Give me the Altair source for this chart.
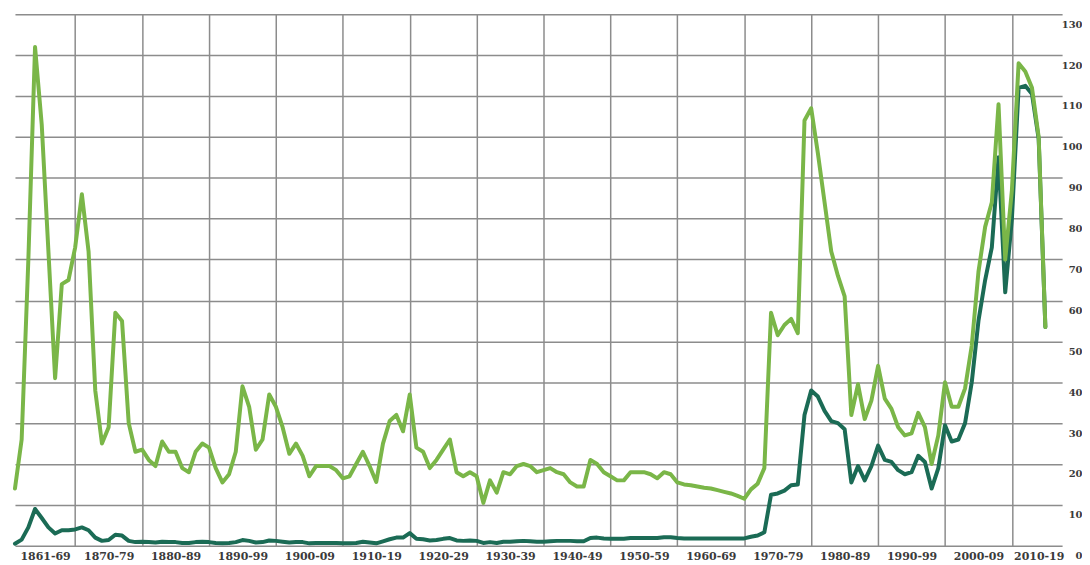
import altair as alt
import pandas as pd

years = list(range(1861, 2016))

# light green series (higher line)
real_price = [
    14, 26, 70, 122, 103, 72, 41, 64, 65,
    73, 86, 72, 38, 25, 29, 57, 55, 30, 23,
    23.5, 21, 19.5, 25.5, 23, 23, 19, 18, 23, 25,
    24, 19, 15.5, 17.5, 23, 39, 34, 23.5, 26, 37,
    34, 29, 22.5, 25, 22, 17, 19.5, 19.5, 19.5, 18.5,
    16.5, 17, 20, 23, 19.5, 15.6, 25, 30.5, 32, 28,
    37, 24, 23, 19, 21, 23.5, 26, 18, 17, 18,
    17, 10.5, 16, 13, 18, 17.5, 19.5, 20, 19.5, 18,
    18.5, 19, 18, 17.5, 15.5, 14.5, 14.5, 21, 20, 18,
    17, 16, 16, 18, 18, 18, 17.5, 16.5, 18, 17.5,
    15.5, 15, 14.8, 14.5, 14.2, 14, 13.6, 13.2, 12.8, 12.2,
    11.5, 13.8, 15.2, 19, 57, 51.5, 54, 55.5, 52, 104,
    107, 96, 84, 72, 66, 61, 32, 39.5, 31, 35.5,
    44, 36, 33.5, 29, 27, 27.5, 32.5, 29, 20, 27,
    40, 34, 34, 38.5, 49, 67, 78, 84, 108, 70,
    87, 118, 116, 112, 100, 53.5,
]

# dark green series (lower line)
nominal_price = [
    0.5, 1.5, 4.5, 9, 6.8, 4.5, 3, 3.8, 3.8,
    4, 4.5, 3.8, 2, 1.2, 1.4, 2.7, 2.5, 1.2, 0.9,
    1, 0.9, 0.8, 1, 0.9, 0.9, 0.7, 0.7, 0.9, 1,
    0.9, 0.7, 0.6, 0.7, 0.9, 1.4, 1.2, 0.8, 0.9, 1.3,
    1.2, 1, 0.8, 0.9, 0.9, 0.6, 0.7, 0.7, 0.7, 0.7,
    0.6, 0.6, 0.7, 1, 0.8, 0.6, 1.1, 1.6, 2, 2,
    3.1, 1.7, 1.6, 1.3, 1.4, 1.7, 1.9, 1.3, 1.2, 1.3,
    1.2, 0.7, 0.9, 0.7, 1, 1, 1.1, 1.2, 1.1, 1,
    1, 1.1, 1.2, 1.2, 1.2, 1.1, 1.1, 1.9, 2, 1.8,
    1.7, 1.7, 1.7, 1.9, 1.9, 1.9, 1.9, 1.9, 2.1, 2.1,
    1.9, 1.8, 1.8, 1.8, 1.8, 1.8, 1.8, 1.8, 1.8, 1.8,
    1.8, 2.2, 2.5, 3.3, 12.5, 12.8, 13.5, 14.8, 15, 32,
    38, 36.5, 33, 30.5, 30, 28.5, 15.5, 19.5, 16, 19.5,
    24.5, 21, 20.5, 18.5, 17.5, 18, 22, 20.5, 14, 19,
    29.5, 25.5, 26, 30, 40, 55, 65, 73, 95, 62,
    80, 112, 112.5, 110.5, 99.5, 53.5,
]

decade_bounds = [1870, 1880, 1890, 1900, 1910, 1920, 1930, 1940, 1950,
                 1960, 1970, 1980, 1990, 2000, 2010]
decade_label_pos = [1865.5, 1875, 1885, 1895, 1905, 1915, 1925, 1935, 1945,
                    1955, 1965, 1975, 1985, 1995, 2005, 2014.0]
decade_labels = ["1861-69", "1870-79", "1880-89", "1890-99", "1900-09",
                 "1910-19", "1920-29", "1930-39", "1940-49", "1950-59",
                 "1960-69", "1970-79", "1980-89", "1990-99", "2000-09",
                 "2010-19"]
y_ticks = list(range(0, 131, 10))

dark_color = "#1b6b55"
light_color = "#7ab648"

df_nom = pd.DataFrame({"year": years, "price": nominal_price})
df_real = pd.DataFrame({"year": years, "price": real_price})

label_expr = ""
for p, l in zip(decade_label_pos, decade_labels):
    label_expr += f"abs(datum.value - {p}) < 0.01 ? '{l}' : "
label_expr += "''"

xscale = alt.Scale(domain=[1861, 2017.5], nice=False, zero=False)
yscale = alt.Scale(domain=[0, 130], nice=False)

font = "DejaVu Serif"

x_grid_axis = alt.Axis(values=decade_bounds, orient="bottom", grid=True, labels=False,
                       ticks=False, domain=False, title=None, gridColor="#8c8c8c",
                       gridWidth=1.5)
x_label_axis = alt.Axis(values=decade_label_pos, orient="bottom", labelExpr=label_expr,
                        grid=False, ticks=False, domain=False, title=None,
                        labelFont=font, labelFontWeight="bold", labelFontSize=11,
                        labelColor="#3a3a3a", labelPadding=5,
                        labelOverlap=False, labelFlush=False)
y_axis = alt.Axis(values=y_ticks, orient="right", grid=True, ticks=False, domain=False,
                  title=None, gridColor="#8c8c8c", gridWidth=1.5,
                  labelFont=font, labelFontWeight="bold", labelFontSize=10,
                  labelColor="#3a3a3a", labelAlign="right", labelBaseline="top",
                  labelPadding=20, labelOffset=5)

dark_line = alt.Chart(df_nom).mark_line(
    strokeWidth=4, strokeJoin="round", strokeCap="round", color=dark_color
).encode(
    x=alt.X("year:Q", scale=xscale, axis=x_grid_axis),
    y=alt.Y("price:Q", scale=yscale, axis=y_axis),
)

light_line = alt.Chart(df_real).mark_line(
    strokeWidth=4, strokeJoin="round", strokeCap="round", color=light_color
).encode(
    x=alt.X("year:Q", scale=xscale, axis=x_label_axis),
    y=alt.Y("price:Q", scale=yscale, axis=y_axis),
)

chart = alt.layer(dark_line, light_line).resolve_axis(x="independent").properties(
    width=1052, height=534,
    padding={"left": 5, "top": 5, "right": 0, "bottom": 0},
    background="white",
).configure_view(stroke=None)

chart.save("out.html", embed_options={"renderer": "svg", "actions": False})
